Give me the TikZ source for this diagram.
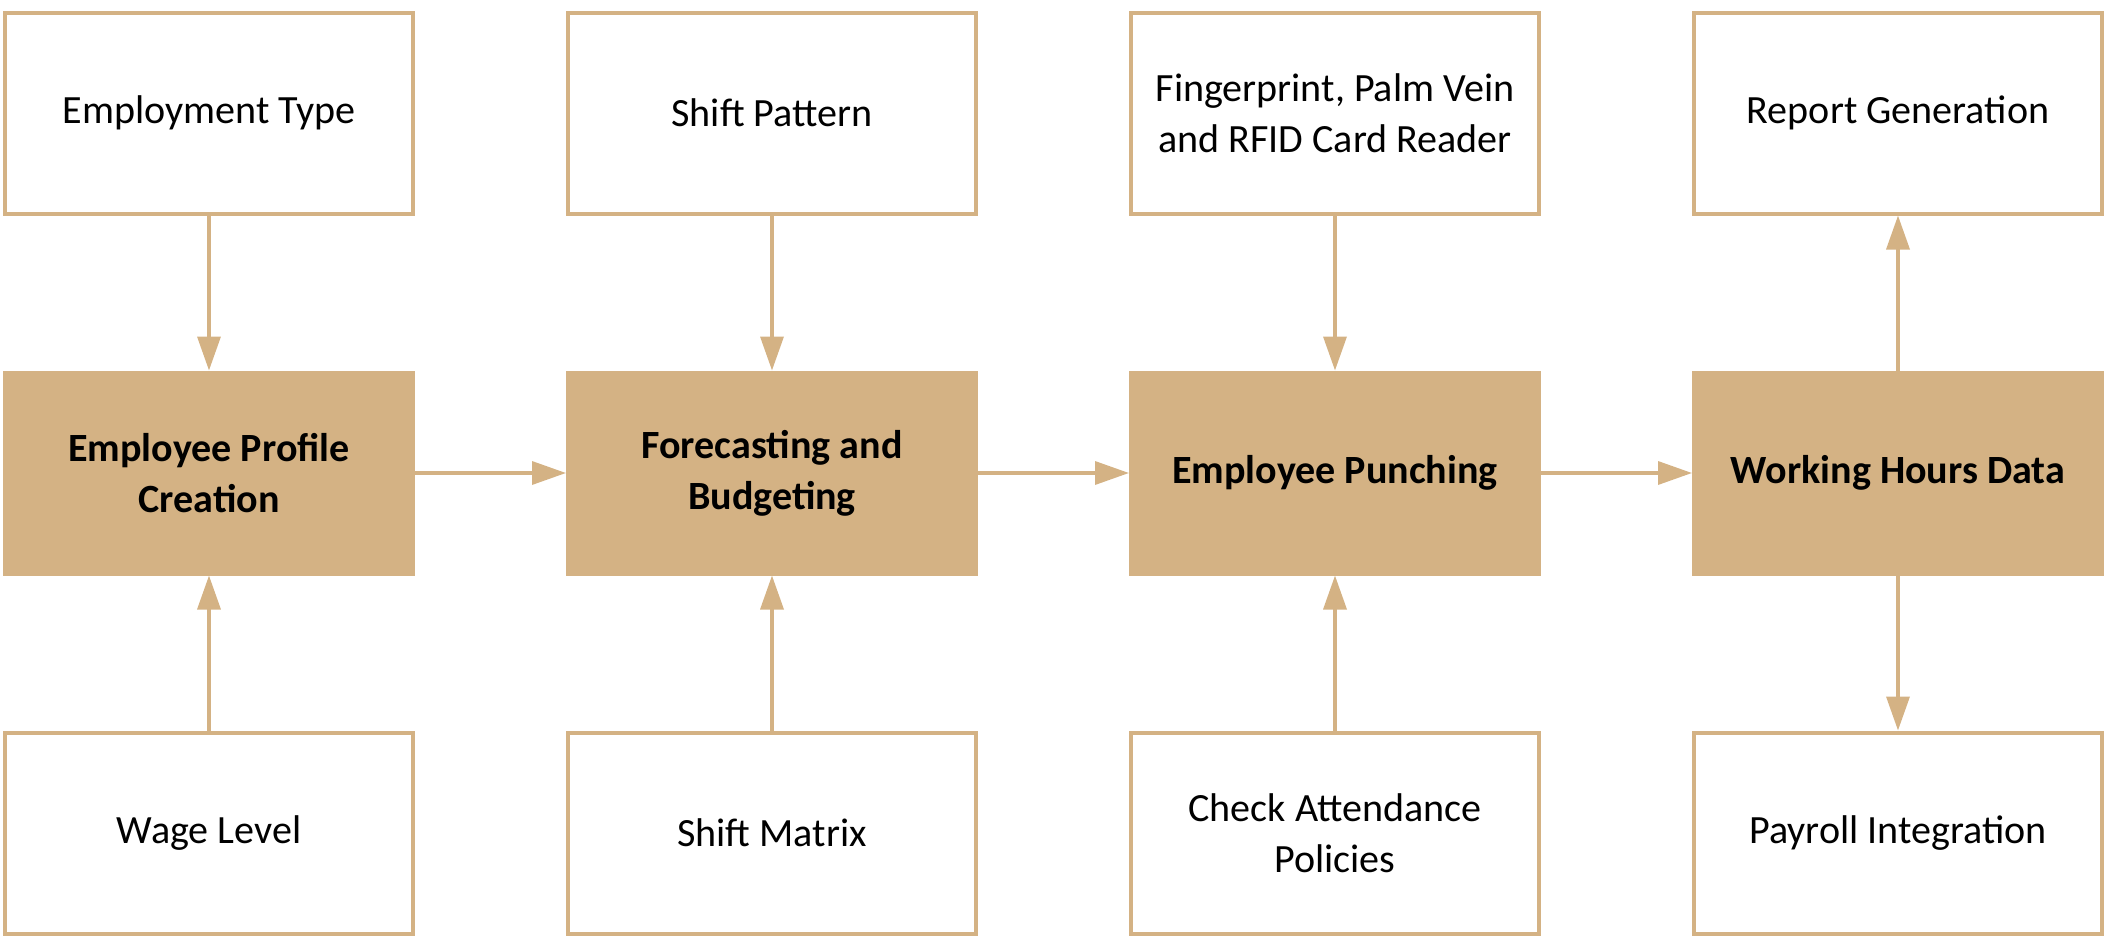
\documentclass[tikz,border=0pt]{standalone}
\usepackage{fontspec}
\setmainfont{Carlito}
\usepackage{tikz}
\usetikzlibrary{positioning, arrows.meta}
\definecolor{tan}{RGB}{212,178,132}
\tikzset{
  inbox/.style={
    rectangle, draw=tan, line width=0.4mm,
    fill=white,
    minimum width=40.8mm, minimum height=20.1mm,
    align=center, font=\fontsize{11.4}{14.5}\selectfont, inner sep=2pt
  },
  stagebox/.style={inbox, fill=tan, font=\fontsize{11.4}{14.5}\selectfont\bfseries},
  flowarrow/.style={
    -{Triangle[length=3.4mm, width=2.3mm]}, draw=tan, line width=0.35mm
  }
}

\begin{document}
\begin{tikzpicture}[node distance=15.5mm and 15.1mm]
  \useasboundingbox (0,0) rectangle (21.12,9.37);

  \node[stagebox] (profile) at (2.09,4.64) {Employee Profile\\Creation};
  \node[stagebox, right=of profile] (forecast) {Forecasting and\\Budgeting};
  \node[stagebox, right=of forecast] (punch) {Employee Punching};
  \node[stagebox, right=of punch] (hours) {Working Hours Data};

  \node[inbox, above=of profile] (emptype) {Employment Type};
  \node[inbox, below=of profile] (wage) {Wage Level};
  \node[inbox, above=of forecast] (pattern) {Shift Pattern};
  \node[inbox, below=of forecast] (matrix) {Shift Matrix};
  \node[inbox, above=of punch] (reader) {Fingerprint, Palm Vein\\and RFID Card Reader};
  \node[inbox, below=of punch] (policy) {Check Attendance\\Policies};
  \node[inbox, above=of hours] (report) {Report Generation};
  \node[inbox, below=of hours] (payroll) {Payroll Integration};

  \draw[flowarrow] (profile) -- (forecast);
  \draw[flowarrow] (forecast) -- (punch);
  \draw[flowarrow] (punch) -- (hours);

  \draw[flowarrow] (emptype) -- (profile);
  \draw[flowarrow] (wage) -- (profile);
  \draw[flowarrow] (pattern) -- (forecast);
  \draw[flowarrow] (matrix) -- (forecast);
  \draw[flowarrow] (reader) -- (punch);
  \draw[flowarrow] (policy) -- (punch);
  \draw[flowarrow] (hours) -- (report);
  \draw[flowarrow] (hours) -- (payroll);
\end{tikzpicture}
\end{document}
